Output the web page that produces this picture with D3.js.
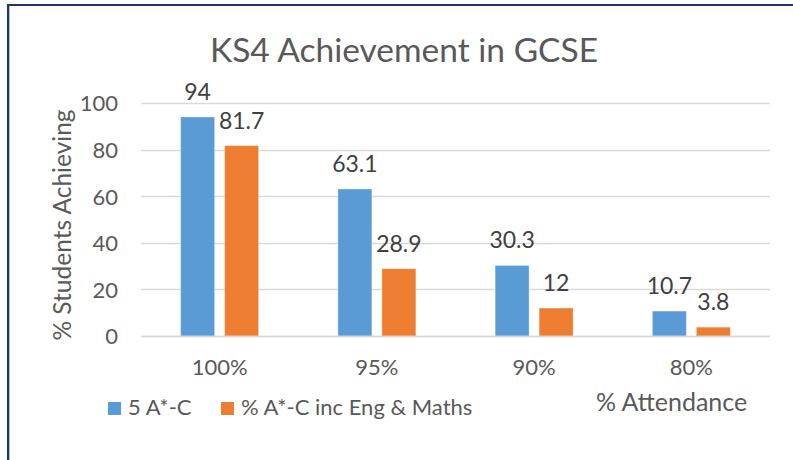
<!DOCTYPE html>
<html><head><meta charset="utf-8">
<script src="https://cdn.jsdelivr.net/npm/d3@7"></script>
<style>body{margin:0;background:#fff}svg{display:block}</style>
</head><body>
<svg id="c" width="793" height="460"></svg>
<script>
const categories = ["100%", "95%", "90%", "80%"];
const seriesNames = ["5 A*-C", "% A*-C inc Eng & Maths"];
const fiveAC = [94, 63.1, 30.3, 10.7];
const incEngMaths = [81.7, 28.9, 12, 3.8];
const yTicks = [0, 20, 40, 60, 80, 100];
const colors = ["#5b9bd5", "#ed7d31"];
const series = [fiveAC, incEngMaths];

const svg = d3.select("#c");
const font = "Lato, 'Open Sans', sans-serif";
const txt = "#595959";

svg.append("rect").attr("width", 793).attr("height", 460).attr("fill", "#fff");
// frame
svg.append("path").attr("d", "M8,470 V5 H800").attr("fill", "none").attr("stroke", "#1f3864").attr("stroke-width", 2);
svg.append("line").attr("x1", 9.5).attr("x2", 9.5).attr("y1", 6).attr("y2", 460).attr("stroke", "#a9bde3").attr("stroke-width", 1);

const x0 = d3.scaleBand().domain(categories).range([141, 770]).paddingInner(0.504).paddingOuter(0.252);
const x1 = d3.scaleBand().domain([0, 1]).range([0, x0.bandwidth()]).paddingInner(0.227).paddingOuter(0);
const y = d3.scaleLinear().domain([0, 100]).range([336, 103]);

// gridlines
svg.append("g").selectAll("line").data(yTicks).join("line")
  .attr("x1", 141).attr("x2", 770)
  .attr("y1", d => Math.round(y(d)) + 0.5).attr("y2", d => Math.round(y(d)) + 0.5)
  .attr("stroke", "#d9d9d9").attr("stroke-width", 1.5);

// y axis labels via d3 axis
const yAxis = svg.append("g").attr("transform", "translate(118,0)")
  .call(d3.axisLeft(y).tickValues(yTicks).tickSize(0).tickPadding(0));
yAxis.select(".domain").remove();
yAxis.selectAll("text").attr("font-family", font).attr("font-size", 22).attr("fill", txt).attr("dy", "0.36em");

// x axis labels
const xAxis = svg.append("g").attr("transform", "translate(0,375)")
  .call(d3.axisBottom(x0).tickSize(0).tickPadding(0));
xAxis.select(".domain").remove();
xAxis.selectAll("text").attr("font-family", font).attr("font-size", 22).attr("fill", txt).attr("dy", "0");

// bars
const groups = svg.append("g").selectAll("g").data(categories).join("g")
  .attr("transform", d => `translate(${x0(d)},0)`);
groups.selectAll("rect").data((d, i) => series.map((s, k) => ({k, v: s[i]}))).join("rect")
  .attr("x", d => x1(d.k)).attr("width", x1.bandwidth())
  .attr("y", d => y(d.v)).attr("height", d => y(0) - y(d.v))
  .attr("fill", d => colors[d.k]).attr("stroke", "#fff").attr("stroke-opacity", 0.35).attr("stroke-width", 1);
groups.selectAll("text").data((d, i) => series.map((s, k) => ({k, v: s[i]}))).join("text")
  .attr("x", d => x1(d.k) + x1.bandwidth() / 2).attr("y", d => y(d.v) - 17)
  .attr("text-anchor", "middle").attr("font-family", font).attr("font-size", 23).attr("fill", "#404040")
  .text(d => d.v);

// redraw baseline over bars
svg.append("line").attr("x1", 141).attr("x2", 770).attr("y1", Math.round(y(0)) + 0.5).attr("y2", Math.round(y(0)) + 0.5)
  .attr("stroke", "#d9d9d9").attr("stroke-width", 1.5);

// title
svg.append("text").attr("x", 404).attr("y", 62).attr("text-anchor", "middle")
  .attr("font-family", font).attr("font-size", 33.5).attr("fill", txt).text("KS4 Achievement in GCSE");

// y axis title
svg.append("text").attr("transform", "translate(71,225) rotate(-90)").attr("text-anchor", "middle")
  .attr("font-family", font).attr("font-size", 24.5).attr("fill", txt).text("% Students Achieving");

// x axis title
svg.append("text").attr("x", 596).attr("y", 411)
  .attr("font-family", font).attr("font-size", 25).attr("fill", txt).text("% Attendance");

// legend
const legX = [108, 221];
const leg = svg.append("g").selectAll("g").data(seriesNames).join("g")
  .attr("transform", (d, i) => `translate(${legX[i]},402)`);
leg.append("rect").attr("width", 13).attr("height", 13).attr("fill", (d, i) => colors[i]);
leg.append("text").attr("x", 20).attr("y", 13).attr("font-family", font).attr("font-size", 22).attr("fill", txt).text(d => d);
</script>
</body></html>
